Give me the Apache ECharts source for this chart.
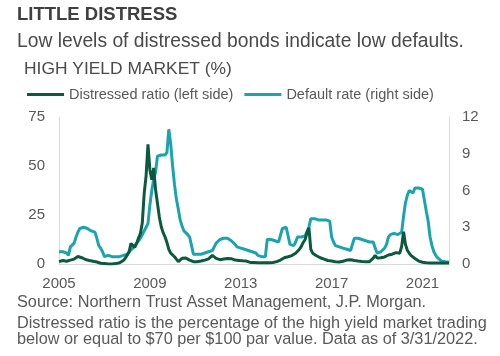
<!DOCTYPE html>
<html><head><meta charset="utf-8">
<script src="https://cdn.jsdelivr.net/npm/echarts@6/dist/echarts.min.js"></script>
<style>html,body{margin:0;padding:0;background:#fff}#c{width:500px;height:356px}</style>
</head><body><div id="c"></div>
<script>
// ---- data (monthly, Jan 2005 .. Mar 2022) ----
const startYear = 2005;
const monthCount = 207;
const yearTicks = ['2005', '2009', '2013', '2017', '2021'];
const seriesNames = ['Distressed ratio (left side)', 'Default rate (right side)'];

const distressedRatio = [
  1.2, 1.5, 1.8, 2.0, 1.4, 1.2, 2.0, 2.2, 2.5, 3.0, 3.8, 4.2,      // 2005
  3.2, 2.6, 2.3, 2.0, 1.8, 1.6, 1.4, 1.2, 1.0, 0.8, 0.4, 0.3,      // 2006
  0.2, 0.1, 0.0, 0.0, 0.0, 0.1, 0.2, 0.3, 0.6, 1.0, 1.8, 2.9,      // 2007
  3.0, 6.0, 10.5, 10.5, 8.5, 10.5, 13.3, 15.5, 21.0, 36.0, 45.0, 61.0, // 2008
  48.0, 43.0, 49.0, 38.0, 31.0, 24.0, 19.0, 16.0, 13.9, 11.0, 7.5, 5.5, // 2009
  4.5, 3.7, 2.5, 1.2, 0.9, 2.9, 3.6, 3.0, 2.5, 2.0, 1.4, 1.2,      // 2010
  1.2, 1.2, 1.2, 1.5, 2.0, 2.0, 2.3, 2.6, 2.9, 4.4, 3.5, 2.9,      // 2011
  2.5, 2.2, 2.3, 2.5, 2.6, 2.8, 2.9, 2.7, 2.4, 2.0, 1.9, 1.8,      // 2012
  1.7, 1.6, 1.5, 1.5, 1.0, 0.8, 0.8, 0.8, 0.7, 0.7, 0.7, 0.7,      // 2013
  0.7, 0.6, 0.6, 0.6, 0.6, 0.8, 1.0, 1.2, 1.6, 2.0, 2.9, 3.2,      // 2014
  3.5, 3.7, 3.8, 4.3, 4.6, 5.5, 6.3, 7.5, 9.0, 11.0, 12.5, 16.0,   // 2015
  18.5, 7.5, 5.5, 4.6, 4.2, 3.6, 3.2, 2.9, 2.5, 2.1, 1.8, 1.6,     // 2016
  1.5, 1.3, 1.2, 1.1, 1.0, 1.0, 1.4, 1.8, 2.0, 2.2, 2.2, 2.0,      // 2017
  1.8, 1.6, 1.5, 1.4, 1.3, 1.3, 1.2, 1.2, 1.2, 1.8, 3.0, 4.4,      // 2018
  3.1, 3.0, 3.2, 3.3, 3.6, 4.2, 4.6, 4.8, 5.0, 5.2, 5.8, 5.0,      // 2019
  5.5, 9.0, 16.5, 10.0, 7.0, 5.5, 4.3, 3.6, 2.8, 2.0, 1.5, 1.2,    // 2020
  0.9, 0.8, 0.6, 0.5, 0.5, 0.5, 0.5, 0.5, 0.5, 0.5, 0.5, 0.5,      // 2021
  0.5, 0.5, 0.5                                                    // 2022
];

const defaultRate = [
  1.0, 1.0, 1.0, 0.9, 0.9, 0.7, 1.4, 1.5, 1.7, 2.2, 2.6, 2.9,      // 2005
  2.9, 3.0, 3.0, 2.9, 2.8, 2.7, 2.6, 2.6, 2.1, 1.5, 1.3, 1.0,      // 2006
  0.6, 0.6, 0.7, 0.7, 0.6, 0.6, 0.6, 0.6, 0.6, 0.6, 0.7, 0.7,      // 2007
  0.8, 1.0, 1.1, 1.3, 1.5, 1.7, 1.9, 2.1, 2.4, 2.7, 3.0, 3.3,      // 2008
  4.8, 6.0, 6.9, 7.5, 8.8, 8.8, 8.9, 8.9, 8.9, 9.1, 11.0, 9.8,     // 2009
  8.0, 6.5, 5.3, 4.5, 3.6, 3.1, 2.7, 2.6, 2.4, 2.2, 1.5, 0.8,      // 2010
  0.8, 0.8, 0.8, 0.8, 0.8, 0.9, 1.0, 1.0, 0.9, 1.1, 1.4, 1.7,      // 2011
  1.8, 2.0, 2.0, 2.1, 2.1, 2.1, 2.0, 1.9, 1.8, 1.6, 1.4, 1.4,      // 2012
  1.3, 1.2, 1.2, 1.1, 1.1, 1.1, 1.0, 1.0, 0.9, 0.7, 0.7, 0.6,      // 2013
  0.6, 0.6, 2.0, 2.0, 2.0, 1.9, 1.9, 1.8, 1.8, 1.8, 2.9, 2.9,      // 2014
  3.0, 3.0, 1.6, 1.5, 1.5, 1.8, 2.2, 2.2, 2.2, 2.3, 2.3, 2.4,      // 2015
  3.0, 3.7, 3.7, 3.7, 3.7, 3.6, 3.6, 3.6, 3.6, 3.6, 3.6, 3.5,      // 2016
  2.2, 1.8, 1.5, 1.4, 1.4, 1.4, 1.3, 1.2, 1.2, 1.1, 1.1, 1.1,      // 2017
  2.1, 2.1, 2.1, 2.0, 2.0, 1.9, 1.9, 1.8, 1.8, 1.8, 1.8, 1.3,      // 2018
  0.9, 0.9, 1.0, 1.1, 1.3, 1.6, 2.2, 2.4, 2.5, 2.5, 2.5, 2.4,      // 2019
  2.5, 2.6, 3.9, 5.0, 5.6, 6.0, 6.0, 5.8, 6.2, 6.3, 6.2, 6.2,      // 2020
  6.1, 5.2, 4.3, 3.5, 2.2, 1.5, 1.0, 0.7, 0.5, 0.35, 0.25, 0.2,    // 2021
  0.18, 0.15, 0.15                                                 // 2022
];

// category labels "YYYY-MM"
const months = [];
for (let i = 0; i < monthCount; i++) {
  const y = startYear + Math.floor(i / 12);
  const m = (i % 12) + 1;
  months.push(y + '-' + (m < 10 ? '0' + m : '' + m));
}

const FONT = "'Liberation Sans', Arial, sans-serif";
const TXT = '#595959';
const DARK = '#0b5a40';
const TEAL = '#1ba4ae';
const AXIS = '#d9d9d9';

const isTick = (v) => v.slice(5) === '01' && yearTicks.indexOf(v.slice(0, 4)) >= 0;

const chart = echarts.init(document.getElementById('c'), null, { renderer: 'canvas' });
chart.setOption({
  animation: false,
  textStyle: { fontFamily: FONT },
  graphic: [
    { type: 'text', style: { x: 17, y: 15, text: 'LITTLE DISTRESS', font: 'bold 18.5px ' + FONT, fill: '#404040', textVerticalAlign: 'middle' } },
    { type: 'text', style: { x: 17, y: 41.7, text: 'Low levels of distressed bonds indicate low defaults.', font: '19.3px ' + FONT, fill: '#4a4a4a', textVerticalAlign: 'middle' } },
    { type: 'text', style: { x: 24, y: 68.8, text: 'HIGH YIELD MARKET (%)', font: '17.4px ' + FONT, fill: '#4a4a4a', textVerticalAlign: 'middle' } },
    { type: 'text', style: { x: 17, y: 303, text: 'Source: Northern Trust Asset Management, J.P. Morgan.', font: '16.3px ' + FONT, fill: TXT, textVerticalAlign: 'middle' } },
    { type: 'text', style: { x: 17, y: 323.5, text: 'Distressed ratio is the percentage of the high yield market trading', font: '16.3px ' + FONT, fill: TXT, textVerticalAlign: 'middle' } },
    { type: 'text', style: { x: 17, y: 340, text: 'below or equal to $70 per $100 par value. Data as of 3/31/2022.', font: '16.3px ' + FONT, fill: TXT, textVerticalAlign: 'middle' } }
  ],
  legend: {
    left: 27, top: 87, padding: 0,
    icon: 'rect', itemWidth: 37, itemHeight: 3, itemGap: 11,
    data: seriesNames,
    textStyle: { fontSize: 14.5, color: TXT, fontFamily: FONT }
  },
  grid: { left: 59, right: 51, top: 117, bottom: 92 },
  xAxis: {
    type: 'category', data: months, boundaryGap: false,
    axisLine: { lineStyle: { color: AXIS, width: 1 } },
    axisTick: { show: false },
    splitLine: { show: false },
    axisLabel: {
      interval: (idx, v) => isTick(v),
      formatter: (v) => (isTick(v) ? v.slice(0, 4) : ''),
      color: TXT, fontSize: 15, margin: 12, fontFamily: FONT
    }
  },
  yAxis: [
    {
      type: 'value', min: 0, max: 75, interval: 25, position: 'left',
      axisLine: { show: true, lineStyle: { color: AXIS } },
      axisTick: { show: false }, splitLine: { show: false },
      axisLabel: { color: TXT, fontSize: 15, margin: 14, fontFamily: FONT }
    },
    {
      type: 'value', min: 0, max: 12, interval: 3, position: 'right',
      axisLine: { show: true, lineStyle: { color: AXIS } },
      axisTick: { show: false }, splitLine: { show: false },
      axisLabel: { color: TXT, fontSize: 15, margin: 13, fontFamily: FONT }
    }
  ],
  series: [
    {
      name: seriesNames[1], type: 'line', yAxisIndex: 1, data: defaultRate,
      showSymbol: false, symbol: 'none',
      lineStyle: { color: TEAL, width: 3 }, itemStyle: { color: TEAL }
    },
    {
      name: seriesNames[0], type: 'line', yAxisIndex: 0, data: distressedRatio,
      showSymbol: false, symbol: 'none',
      lineStyle: { color: DARK, width: 3 }, itemStyle: { color: DARK }
    }
  ]
});
</script>
</body></html>
